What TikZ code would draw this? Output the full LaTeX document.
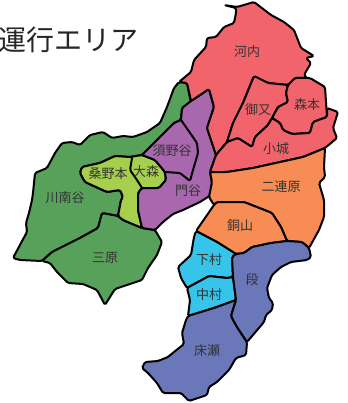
\documentclass[tikz,border=0pt]{standalone}
\usepackage{fontspec}
\setmainfont{Noto Sans CJK JP}
\definecolor{cred}{HTML}{F1646C}
\definecolor{cgreen}{HTML}{57A15B}
\definecolor{clime}{HTML}{A6CF4D}
\definecolor{cpurple}{HTML}{A968AE}
\definecolor{corange}{HTML}{F78D55}
\definecolor{ccyan}{HTML}{37C4EA}
\definecolor{cblue}{HTML}{6A78BA}
\tikzset{
  area/.style={draw=black,line width=2pt,line join=round,line cap=round,rounded corners=1.5pt},
  place/.style={font=\fontsize{13}{13}\selectfont,text=black!80,inner sep=0pt},
  headline/.style={font=\fontsize{28}{28}\selectfont,text=black!85,anchor=east,inner sep=0pt}
}
\begin{document}
\begin{tikzpicture}[x=1pt,y=-1pt]
\useasboundingbox (0,0) rectangle (347,403);
% green: Kawanamidani
\path[area,fill=cgreen] (13,258)--(21,243)--(27,232)--(26,223)--(29,213)--(32,200)--(33,193)--(35,173)--(47,168)--(55,153)--(62,143)--(72,142)--(80,145)--(90,135)--(103,132)--(112,138)--(123,136)--(133,137)--(147,132)--(160,123)--(167,107)--(174,88)--(179,82)--(187,83)--(191,103)--(182,108)--(181,120)--(174,123)--(157,140)--(142,155)--(130,157)--(115,156)--(100,163)--(82,167)--(80,173)--(85,182)--(107,192)--(120,190)--(123,197)--(121,200)--(118,216)--(102,213)--(98,228)--(80,238)--(52,252)--(42,261)--(20,260)--cycle;
% green: Mihara
\path[area,fill=cgreen] (102,213)--(118,216)--(123,220)--(142,228)--(155,230)--(162,242)--(157,255)--(148,268)--(142,280)--(115,289)--(105,305)--(97,290)--(83,284)--(68,283)--(57,272)--(50,263)--(42,261)--(52,252)--(80,238)--(98,228)--cycle;
% lime: Kuwanomoto, Omori
\path[area,fill=clime] (82,167)--(100,163)--(115,156)--(130,157)--(142,155)--(155,160)--(165,172)--(166,180)--(159,188)--(142,188)--(138,193)--(138,210)--(142,228)--(123,220)--(118,216)--(121,200)--(123,197)--(120,190)--(107,192)--(85,182)--(80,173)--cycle;
\draw[area] (132,158)--(130,170)--(137,180)--(142,188);
% purple: Sunotani, Kadotani
\path[area,fill=cpurple] (181,120)--(182,108)--(191,101)--(209,89)--(214,107)--(207,128)--(216,155)--(210,172)--(212,182)--(211,195)--(200,202)--(183,210)--(173,214)--(163,222)--(155,230)--(142,228)--(138,210)--(138,193)--(142,188)--(159,188)--(166,180)--(165,172)--(155,160)--(142,155)--(157,140)--(174,123)--cycle;
\draw[area] (181,120)--(188,130)--(197,143)--(198,153)--(193,170)--(190,181)--(180,173)--(165,172);
% red: Kawachi
\path[area,fill=cred] (224,5)--(236,8)--(236,13)--(234,23)--(224,27)--(216,37)--(207,38)--(206,47)--(194,60)--(191,72)--(179,82)--(187,83)--(191,101)--(209,89)--(214,107)--(207,128)--(216,155)--(227,142)--(233,123)--(243,103)--(254,76)--(268,83)--(288,85)--(295,78)--(307,78)--(304,75)--(311,63)--(306,58)--(314,56)--(301,48)--(294,30)--(284,22)--(271,15)--(254,2)--(237,7)--cycle;
% red: Komata
\path[area,fill=cred] (254,76)--(268,83)--(288,85)--(286,93)--(288,102)--(278,107)--(272,118)--(268,125)--(255,137)--(252,147)--(238,138)--(227,142)--(233,123)--(243,103)--cycle;
% red: Morimoto
\path[area,fill=cred] (288,85)--(295,78)--(310,78)--(325,87)--(327,117)--(313,122)--(310,133)--(292,134)--(283,130)--(280,123)--(272,118)--(278,107)--(288,102)--(286,93)--cycle;
% red: Kojiro
\path[area,fill=cred] (216,155)--(227,142)--(238,138)--(252,147)--(255,137)--(268,125)--(272,118)--(280,123)--(283,130)--(292,134)--(310,133)--(313,122)--(327,117)--(327,108)--(338,112)--(333,128)--(337,138)--(325,148)--(303,157)--(253,168)--(227,172)--(210,172)--cycle;
% orange: Nirenbara
\path[area,fill=corange] (210,172)--(227,172)--(253,168)--(303,157)--(325,148)--(324,167)--(325,177)--(319,183)--(324,200)--(324,217)--(319,230)--(309,248)--(302,242)--(287,241)--(281,227)--(272,213)--(244,202)--(217,202)--(214,205)--(209,197)--(212,182)--cycle;
% orange: Doyama
\path[area,fill=corange] (217,202)--(244,202)--(272,213)--(281,227)--(287,241)--(271,243)--(252,247)--(244,253)--(236,254)--(217,242)--(196,231)--(214,205)--cycle;
% cyan: Shimomura
\path[area,fill=ccyan] (196,231)--(217,242)--(236,254)--(232,257)--(233,277)--(227,278)--(209,276)--(187,288)--(181,278)--(178,267)--(191,255)--(194,237)--cycle;
% cyan: Nakamura
\path[area,fill=ccyan] (187,288)--(209,276)--(227,278)--(233,277)--(236,300)--(214,308)--(188,316)--(190,300)--cycle;
% blue: Toko
\path[area,fill=cblue] (188,316)--(214,308)--(236,300)--(231,316)--(237,327)--(247,342)--(246,355)--(236,358)--(229,370)--(217,382)--(209,387)--(207,395)--(189,401)--(181,393)--(163,393)--(157,383)--(148,373)--(142,368)--(145,362)--(158,361)--(168,357)--(174,352)--(184,344)--(182,333)--(186,320)--cycle;
% blue: Dan
\path[area,fill=cblue] (236,254)--(244,253)--(252,247)--(271,243)--(287,241)--(302,242)--(309,248)--(311,257)--(307,260)--(291,262)--(281,267)--(272,275)--(267,288)--(269,298)--(273,303)--(272,310)--(266,315)--(264,322)--(247,342)--(237,327)--(231,316)--(236,300)--(233,277)--(232,257)--cycle;
% labels
\node[headline] (title) at (138.5,40) {運行エリア};
\node[place] (kawachi) at (247,52) {河内};
\node[place] (komata) at (258,110) {御又};
\node[place] (morimoto) at (307,105) {森本};
\node[place] (kojiro) at (276,149) {小城};
\node[place] (niren) at (281,187) {二連原};
\node[place] (suno) at (172,151) {須野谷};
\node[place] (kado) at (188,191) {門谷};
\node[place] (omori) at (146,172) {大森};
\node[place] (kuwano) at (108,174) {桑野本};
\node[place] (kawanami) at (65,198) {川南谷};
\node[place] (mihara) at (105,258) {三原};
\node[place] (doyama) at (240,226) {銅山};
\node[place] (shimo) at (209,260) {下村};
\node[place] (naka) at (209,295) {中村};
\node[place] (dan) at (252,280) {段};
\node[place] (toko) at (207,351) {床瀬};
\end{tikzpicture}
\end{document}
